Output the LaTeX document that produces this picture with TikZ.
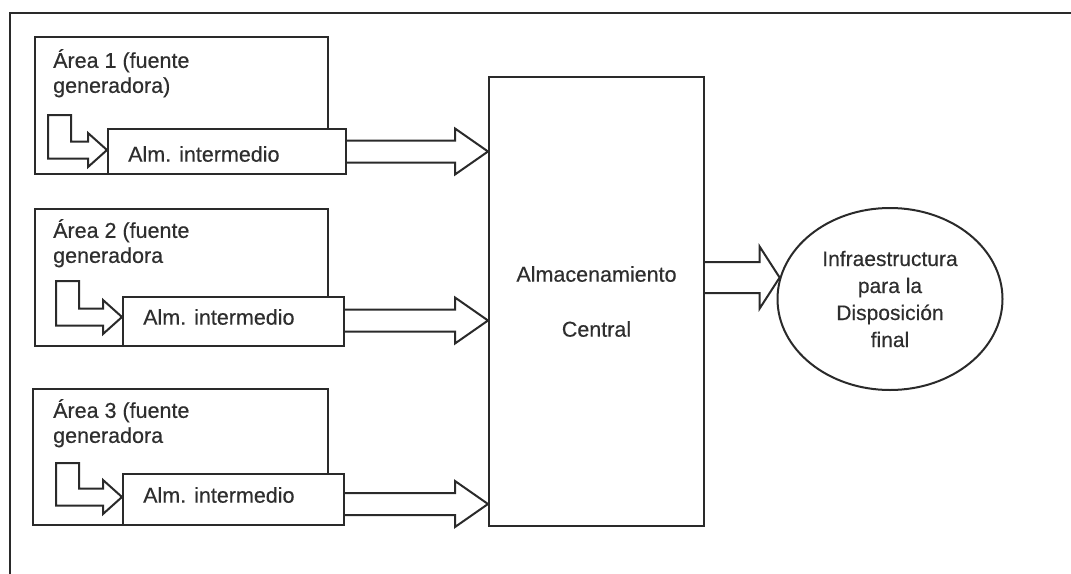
\documentclass[tikz,border=0pt]{standalone}
\usepackage{fontspec}
\setmainfont[FakeBold=0.4]{Liberation Sans}
\usetikzlibrary{calc,shapes.geometric}
\definecolor{lc}{HTML}{2A2A2A}
\definecolor{tc}{HTML}{2E2E2E}
\newcommand\mylarrow[4]{% node, outer offset, tip yshift, top height
  \draw[blk] let \p1=([yshift=#3pt]#1.west) in
    (\x1,\y1) -- (\x1-19pt,\y1+17pt) -- (\x1-19pt,\y1+8.5pt)
    -- (\x1-#2pt+23pt,\y1+8.5pt) -- (\x1-#2pt+23pt,\y1+#4pt)
    -- (\x1-#2pt,\y1+#4pt) -- (\x1-#2pt,\y1-8.5pt)
    -- (\x1-19pt,\y1-8.5pt) -- (\x1-19pt,\y1-17pt) -- cycle;}
\newcommand\myblkarrow[3]{% from node, to node, yshift
  \draw[blk] let \p1=([yshift=#3pt]#1.east), \p2=(#2.west) in
    (\x1,\y1+11pt) -- (\x2-33pt,\y1+11pt) -- (\x2-33pt,\y1+23pt)
    -- (\x2,\y1) -- (\x2-33pt,\y1-23pt) -- (\x2-33pt,\y1-11pt) -- (\x1,\y1-11pt);}
\begin{document}
\begin{tikzpicture}[x=1pt,y=-1pt,
  box/.style={draw=lc, line width=2pt, fill=white, inner sep=0pt, anchor=north west},
  lbl/.style={text=tc, inner sep=0pt, font=\fontsize{21.5}{25}\selectfont},
  blk/.style={draw=lc, line width=2pt, fill=white, line join=miter},
  frame/.style={draw=lc, line width=2.4pt}]
\useasboundingbox (0,0) rectangle (1071,573);
\coordinate (fbl) at (10,575);
\coordinate (ftl) at (10,13);
\coordinate (ftr) at (1073,13);
\draw[frame] (fbl) -- (ftl) -- (ftr);

\node[box, minimum width=293pt, minimum height=137pt] (area1) at (34,36) {};
\node[box, minimum width=293pt, minimum height=137pt] (area2) at (34,208) {};
\node[box, minimum width=295pt, minimum height=136pt] (area3) at (32,388) {};

\node[lbl, anchor=north west, align=left] (area1t) at (53,49) {Área 1 (fuente\\generadora)};
\node[lbl, anchor=north west, align=left] (area2t) at (53,219) {Área 2 (fuente\\generadora};
\node[lbl, anchor=north west, align=left] (area3t) at (53,399) {Área 3 (fuente\\generadora};

\node[box, minimum width=238pt, minimum height=45pt] (alm1) at (107,128) {};
\node[box, minimum width=221pt, minimum height=49pt] (alm2) at (122,296) {};
\node[box, minimum width=221pt, minimum height=51pt] (alm3) at (122,473) {};

\node[lbl, anchor=west] (alm1t) at ([xshift=21pt,yshift=-2.5pt]alm1.west) {Alm. intermedio};
\node[lbl, anchor=west] (alm2t) at ([xshift=21pt,yshift=4.5pt]alm2.west) {Alm. intermedio};
\node[lbl, anchor=west] (alm3t) at ([xshift=21pt,yshift=4.5pt]alm3.west) {Alm. intermedio};

\mylarrow{alm1}{59}{1.5}{35}
\mylarrow{alm2}{66}{4.5}{36}
\mylarrow{alm3}{66}{2.5}{34}

\node[box, lbl, minimum width=215pt, minimum height=449pt, align=center] (central) at (488,76) {Almacenamiento\\[30pt]Central};

\node[ellipse, draw=lc, line width=2pt, minimum width=225pt, minimum height=182pt,
  inner sep=0pt, align=center, text=tc, font=\fontsize{21}{27}\selectfont] (ell) at (890,299)
  {Infraestructura\\para la\\Disposición\\final};

\myblkarrow{alm1}{central}{0}
\myblkarrow{alm2}{central}{1}
\myblkarrow{alm3}{central}{-4.5}

\draw[blk] let \p1=(central.east), \p2=(ell.169) in
  (\x1,\y2+15.5pt) -- (\x2-20pt,\y2+15.5pt) -- (\x2-20pt,\y2+31pt) -- (\x2,\y2)
  -- (\x2-20pt,\y2-31pt) -- (\x2-20pt,\y2-15.5pt) -- (\x1,\y2-15.5pt);
\end{tikzpicture}
\end{document}
